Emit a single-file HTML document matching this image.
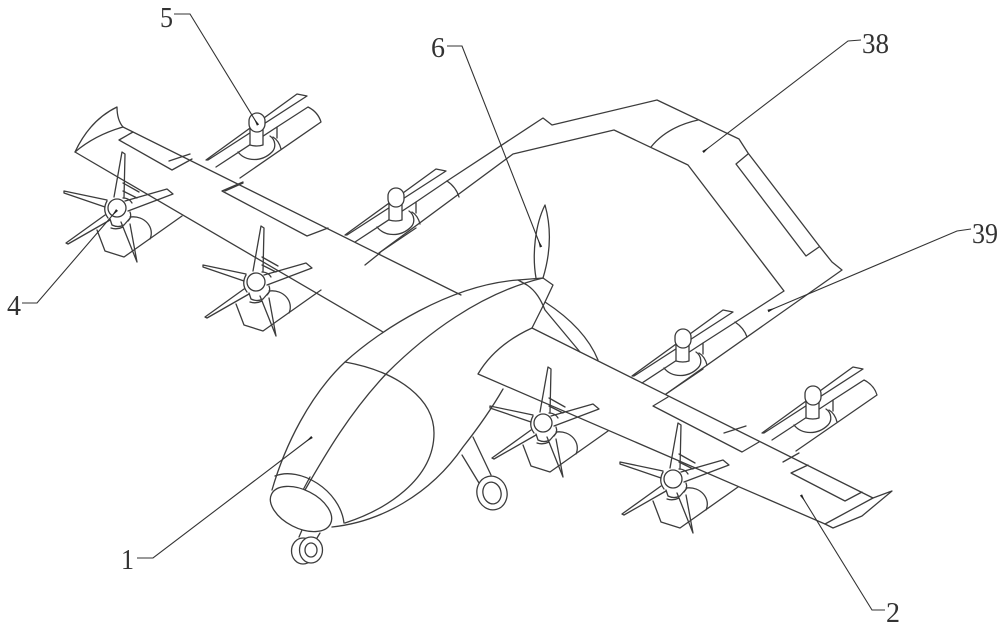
<!DOCTYPE html>
<html><head><meta charset="utf-8"><style>
html,body{margin:0;padding:0;background:#fff;width:1000px;height:626px;overflow:hidden}
svg{display:block}
text{font-family:"Liberation Serif","Noto Serif CJK SC",serif;font-size:28px;fill:#333}
.l path,.l line,.l polygon,.l ellipse,.l rect,.l circle,.l polyline{stroke:#3c3c3c;stroke-width:1.3;fill:none;stroke-linejoin:round;stroke-linecap:round}
.l .w{fill:#fff}
.lead{stroke:#333;stroke-width:1.1;fill:none}
</style></head><body>
<svg width="1000" height="626" viewBox="0 0 1000 626" xmlns="http://www.w3.org/2000/svg">
<defs>
<marker id="ah" markerWidth="9" markerHeight="5" refX="8" refY="2.5" orient="auto" markerUnits="userSpaceOnUse"><path d="M0 2.5L8 1.2V3.8Z" fill="#222"/></marker>
</defs>
<rect width="1000" height="626" fill="#fff"/>
<g class="l">
<defs>
<g id="rotor">
<path d="M-20 22L-12 43L7 49L65 8"/>
<path d="M13 9C28 7 38 20 33 31"/>
<path d="M6 -25L22 -16M6 -17L20 -10"/>
<path d="M-7 11L-5 17Q1 20 7 17L14 9" class="w"/>
<path d="M-6 20Q0 22 6 19"/>
<path d="M-10 -7Q-15 2 -9 10M6 -10Q12 -10 15 -5M13 4Q15 9 11 13"/>
<path d="M-3 -11L5 -56L8 -54L7 -10"/>
<path d="M-10 -8L-53 -17L-53 -15L-12 -1"/>
<path d="M8 -7L50 -19L56 -14L11 3"/>
<path d="M-12 7L-51 35L-49 36L-7 12"/>
<path d="M4 14L20 54L13 16"/>
<circle cx="0" cy="0" r="9" class="w"/>
</g>
<g id="up">
<polygon points="206,160 297,94 307,96 208,160"/>
<path d="M216 167L277 127V138M238 152C246 162 262 162 272 152C276 148 276 140 270 136M273 137C278 140 280 145 281 149"/>
<path class="w" d="M250 128V145Q257 147 263 145V128Z"/>
<rect class="w" x="249" y="113" width="16" height="19" rx="8"/>
</g>
</defs>
<!-- left wing -->
<path d="M75 152Q90 120 117 107Q117 120 123 127Q95 135 75 152Z"/>
<path d="M123 127L461 295M75 152L383 332"/>
<path d="M133 132L119 140L172 170L192 159M169 161L190 154"/>
<path d="M243 182L222 191L307 236L328 228M225 191L243 183"/>
<path d="M365 265L380 253"/>
<!-- right wing -->
<path d="M478 374Q495 345 532 328L873 498M478 374L825 524"/>
<path d="M825 524L833 528L862 516L892 491L873 498L825 524"/>
<path d="M668 397L653 406L742 452L759 442M724 433L746 426"/>
<path d="M808 465L791 473L845 501L862 492M783 462L799 453"/>
<!-- boom -->
<path d="M447 181L543 118L552 125L657 100L739 139L748 153L820 247L832 262L842 270L666 394"/>
<path d="M379 253L513 154L614 130L688 165L784 291L703 343"/>
<path d="M416 202L447 181"/>
<path d="M447 181Q456 187 459 197M651 147Q667 127 698 120M735 322Q744 328 747 337"/>
<path d="M748 154L736 164L806 256L819 247"/>
<!-- rotors upper -->
<use href="#up"/>
<use href="#up" transform="translate(139,75)"/>
<use href="#up" transform="translate(426,216)"/>
<use href="#up" transform="translate(556,273)"/>
<path d="M308 107Q318 112 321 122L240 178M277 127L308 107"/>
<path d="M864 380Q874 385 877 395L796 451M833 400L864 380"/>
<!-- rotors lower -->
<use href="#rotor" transform="translate(117,208)"/>
<use href="#rotor" transform="translate(256,282)"/>
<use href="#rotor" transform="translate(543,423)"/>
<use href="#rotor" transform="translate(673,479)"/>
<!-- tail prop -->
<path d="M536 278C532 255 535 225 545 205C552 230 550 255 543 278"/>
<path d="M518 280L527 285C536 291 541 300 545 310L580 352M518 280Q530 279 543 278L553 285L545 302L532 328"/>
<path d="M545 302Q585 328 598 360"/>
<!-- main wheel -->
<path d="M473 437L491 475M462 455L479 483"/>
<ellipse cx="492" cy="493" rx="15" ry="17" transform="rotate(-15 492 493)" class="w"/>
<ellipse cx="492" cy="493" rx="9" ry="11" transform="rotate(-15 492 493)"/>
<!-- fuselage -->
<path d="M272 490C285 445 310 395 345 362C380 330 450 285 518 280"/>
<path d="M543 278C480 293 425 335 387 373C350 412 325 455 305 490"/>
<path d="M332 527C380 522 430 495 463 447C478 428 492 408 503 389"/>
<path d="M345 362C400 372 434 400 434 433C434 480 385 510 345 523"/>
<path d="M275 476C300 466 340 490 344 523"/>
<path d="M303 490L310 477"/>
<ellipse cx="301" cy="509" rx="33" ry="19" transform="rotate(27 301 509)" class="w"/>
<path d="M302 530L299 537M320 533L317 538"/>
<ellipse cx="303" cy="551" rx="11.5" ry="13" class="w"/>
<ellipse cx="311" cy="550" rx="11.5" ry="13" class="w"/>
<ellipse cx="311" cy="550" rx="6" ry="7"/>
<path d="M379 253L416 228M666 394L703 369"/>
</g>
<!-- leaders -->
<g class="lead">
<path marker-end="url(#ah)" d="M174 14H190L258 125"/>
<path marker-end="url(#ah)" d="M447 46H462L541 247"/>
<path marker-end="url(#ah)" d="M861 40L848 41L703 152"/>
<path marker-end="url(#ah)" d="M971 229L957 231L768 311"/>
<path marker-end="url(#ah)" d="M22 303H37L117 210"/>
<path marker-end="url(#ah)" d="M137 558H153L312 437"/>
<path marker-end="url(#ah)" d="M885 610H872L801 495"/>
</g>
<text x="160" y="27" textLength="13" lengthAdjust="spacingAndGlyphs">5</text>
<text x="431" y="57" textLength="14" lengthAdjust="spacingAndGlyphs">6</text>
<text x="862" y="53" textLength="27" lengthAdjust="spacingAndGlyphs">38</text>
<text x="972" y="243" textLength="26" lengthAdjust="spacingAndGlyphs">39</text>
<text x="7" y="315" textLength="14" lengthAdjust="spacingAndGlyphs">4</text>
<text x="121" y="569" textLength="13" lengthAdjust="spacingAndGlyphs">1</text>
<text x="886" y="622" textLength="14" lengthAdjust="spacingAndGlyphs">2</text>
</svg>
</body></html>
